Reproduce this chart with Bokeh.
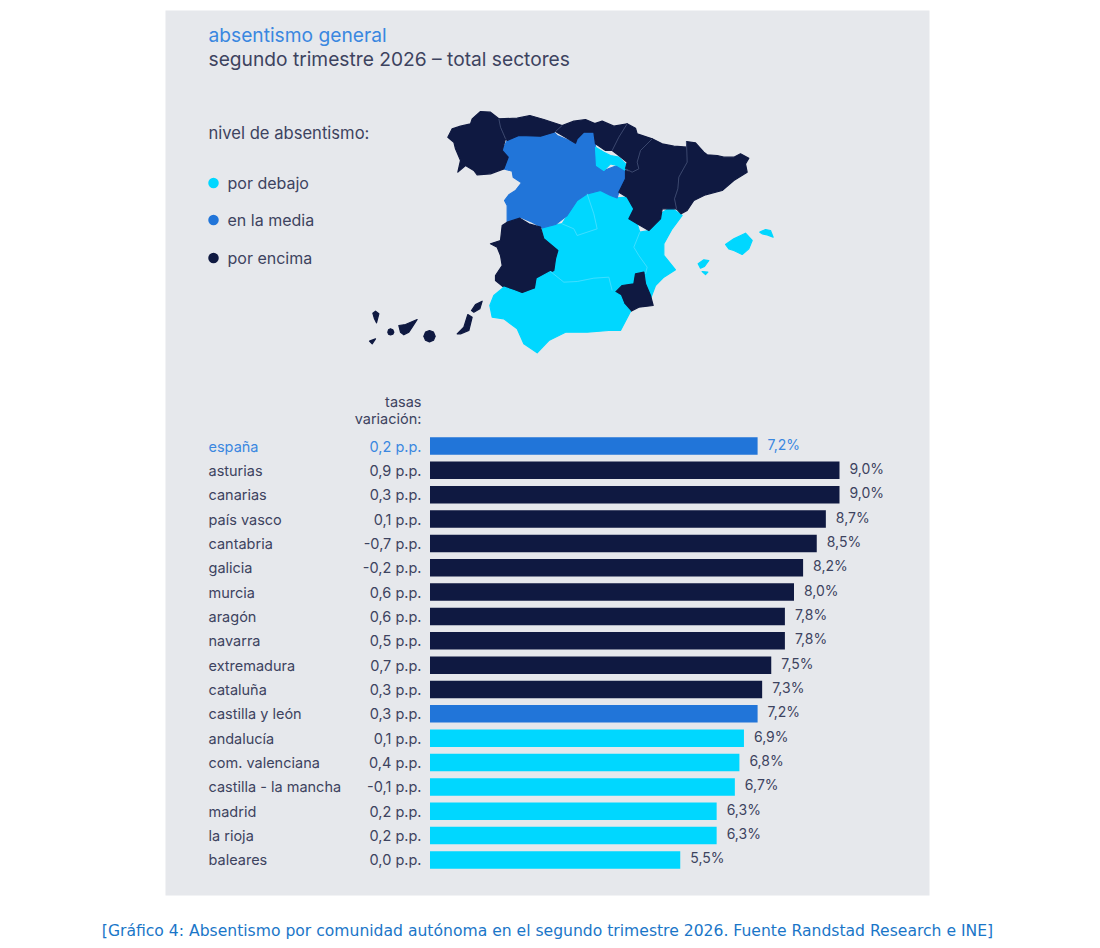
from bokeh.plotting import figure
from bokeh.models import Range1d, ColumnDataSource
from bokeh.core.properties import value
from bokeh.embed import file_html
from bokeh.resources import INLINE

NAVY = "#0f1941"; BLUE = "#2175d9"; CYAN = "#00d7ff"; BG = "#e6e8ec"; INK = "#3d435f"; BLUE_TXT = "#3a87e0"
LEVEL_COLORS = {"debajo": CYAN, "media": BLUE, "encima": NAVY}

regions = ["españa", "asturias", "canarias", "país vasco", "cantabria", "galicia", "murcia", "aragón", "navarra",
           "extremadura", "cataluña", "castilla y león", "andalucía", "com. valenciana", "castilla - la mancha",
           "madrid", "la rioja", "baleares"]
rates = [7.2, 9.0, 9.0, 8.7, 8.5, 8.2, 8.0, 7.8, 7.8, 7.5, 7.3, 7.2, 6.9, 6.8, 6.7, 6.3, 6.3, 5.5]
rate_labels = ["7,2%", "9,0%", "9,0%", "8,7%", "8,5%", "8,2%", "8,0%", "7,8%", "7,8%", "7,5%", "7,3%", "7,2%",
               "6,9%", "6,8%", "6,7%", "6,3%", "6,3%", "5,5%"]
variation = ["0,2 p.p.", "0,9 p.p.", "0,3 p.p.", "0,1 p.p.", "-0,7 p.p.", "-0,2 p.p.", "0,6 p.p.", "0,6 p.p.",
             "0,5 p.p.", "0,7 p.p.", "0,3 p.p.", "0,3 p.p.", "0,1 p.p.", "0,4 p.p.", "-0,1 p.p.", "0,2 p.p.",
             "0,2 p.p.", "0,0 p.p."]
levels = ["media"] + ["encima"] * 10 + ["media"] + ["debajo"] * 6

legend_labels = ["por debajo", "en la media", "por encima"]
legend_levels = ["debajo", "media", "encima"]

# Map outlines, in map units
map_shapes = {
 "castilla_mancha": ("debajo", [545,585,605,640,650,710,700,680,720,750,770,800,820,805,830,838,820,835,860,855,825,820,785,765,755,745,700,650,610,570,580,585,592,550],
                               [382,372,370,385,405,385,340,280,270,285,292,290,325,355,370,395,440,465,500,520,520,550,555,575,570,530,533,543,545,513,510,475,450,415]),
 "madrid": ("debajo", [680,700,710,650,640,605,620,650],[280,340,385,405,385,370,345,300]),
 "valencia": ("debajo", [900,930,965,935,910,910,945,910,885,870,855,850,860,835,820,838,865],
                        [340,320,345,385,430,465,508,530,555,595,550,515,500,465,440,395,390]),
 "castilla_leon": ("media", [425,440,475,540,575,590,645,650,670,700,705,708,730,770,797,795,775,770,750,720,680,650,620,585,545,515,480,440,440,432,445,465,483,458,455,430,443],
                            [150,120,105,107,90,105,128,115,95,95,135,195,210,195,212,240,275,292,285,270,280,300,345,372,382,365,350,375,315,300,283,270,247,230,212,205,170]),
 "la_rioja": ("debajo", [705,730,750,775,800,795,770,750,730,708],[140,155,165,170,195,210,195,190,210,195]),
 "galicia": ("encima", [262,275,300,330,335,360,390,415,420,435,425,443,430,390,350,340,315,292,300,285,280],
                        [110,85,77,70,55,33,35,55,80,115,150,170,205,220,223,210,195,215,180,145,125]),
 "asturias": ("encima", [415,470,508,550,605,580,540,475,440,430,420],[55,53,45,57,75,95,107,105,120,100,80]),
 "cantabria": ("encima", [605,640,675,705,700,670,650,645,615,585],[75,62,57,70,95,95,115,128,110,93]),
 "pais_vasco": ("encima", [700,725,760,800,775,755,735,705,700],[70,62,77,70,110,150,150,130,95]),
 "navarra": ("encima", [800,825,830,875,840,830,835,815,795,800,775,755,775],
                        [70,83,100,115,150,185,205,215,205,185,165,150,110]),
 "aragon": ("encima", [875,905,940,980,980,955,952,942,948,905,900,865,830,805,820,800,775,795,795,815,835,830,840],
                       [115,130,137,140,185,230,265,295,325,325,355,390,370,355,325,290,275,235,210,215,205,185,150]),
 "cataluna": ("encima", [978,1005,1030,1040,1070,1090,1120,1140,1165,1155,1160,1120,1085,1035,1000,980,962,948,942,952,955,980],
                         [123,127,155,163,165,170,170,160,173,190,215,240,270,283,300,330,340,325,295,265,230,185]),
 "murcia": ("encima", [765,785,820,825,850,855,870,878,835,810,790,780],[575,555,550,520,515,550,585,615,620,633,610,585]),
 "extremadura": ("encima", [425,440,478,505,540,550,592,585,580,530,525,485,460,430,405,405,425,420,410,390,420],
                           [375,365,353,370,380,415,450,475,510,535,565,580,570,560,540,525,495,465,440,430,420]),
 "andalucia": ("debajo", [430,460,485,525,530,570,610,650,700,745,755,780,790,810,780,745,680,615,565,530,490,470,430,395,388,400],
                         [560,570,580,565,535,513,545,543,533,530,570,585,610,633,690,690,695,695,720,757,730,685,655,650,615,585]),
 "mallorca": ("debajo", [1095,1120,1155,1175,1165,1145,1120,1105],[432,415,398,420,445,462,450,445]),
 "menorca": ("debajo", [1198,1215,1230,1238,1220,1205],[395,387,390,410,403,400]),
 "ibiza": ("debajo", [1013,1030,1045,1032,1020],[490,478,480,498,503]),
 "formentera": ("debajo", [1025,1042,1035],[513,515,522]),
 "la_palma": ("encima", [37,45,55,48,42],[638,632,640,667,655]),
 "el_hierro": ("encima", [27,45,35],[722,715,730]),
 "la_gomera": ("encima", [90,97,100,97,90,84,82,84],[685,688,695,701,703,701,695,688]),
 "tenerife": ("encima", [115,135,170,155,145,130,120],[675,672,657,680,695,703,695]),
 "gran_canaria": ("encima", [207,219,224,219,207,195,190,195],[690,695,707,719,724,719,707,695]),
 "fuerteventura": ("encima", [290,310,322,335,325,300],[700,680,642,650,690,700]),
 "lanzarote": ("encima", [333,345,365,358,340],[630,612,602,625,635]),
}
# inner borders between regions of the same colour
map_borders = {
 "gal_ast": ("encima", [415,420,435],[55,80,115]),
 "vas_nav": ("encima", [800,775,755],[70,110,150]),
 "nav_ara": ("encima", [875,840,830,835,815,795],[115,150,185,205,215,205]),
 "ara_cat": ("encima", [978,980,955,952,942,948],[123,185,230,265,295,325]),
 "ast_can": ("encima", [605,585],[75,93]),
 "madrid": ("debajo", [680,700,710,650,640,605],[280,340,385,405,385,370]),
 "clm_val": ("debajo", [838,820,835,860,855],[395,440,465,500,520]),
 "clm_and": ("debajo", [570,610,650,700,745,755],[513,545,543,533,530,570]),
}

W, H = 1084, 940
p = figure(width=W, height=H, output_backend="svg", toolbar_location=None,
           x_range=Range1d(0, W), y_range=Range1d(H, 0),
           min_border=0, outline_line_color=None, background_fill_color="white", border_fill_color="white")
p.axis.visible = False
p.grid.visible = False

# scales: bars (percent / row) and map units
PX_PER_PCT = 45.5; ZERO = 429.5; ROW = 24.35; ROW0 = 445.5
p.extra_x_ranges = {"pct": Range1d((0 - ZERO) / PX_PER_PCT, (W - ZERO) / PX_PER_PCT),
                    "map": Range1d((0 - 360) * 3, (W - 360) * 3)}
p.extra_y_ranges = {"row": Range1d((H - ROW0) / ROW, (0 - ROW0) / ROW),
                    "map": Range1d((H - 100) * 3, (0 - 100) * 3)}

p.quad(left=[165], right=[929], top=[10], bottom=[895], fill_color=BG, line_color=None)

# map
xs, ys, cols = [], [], []
for lvl, mx, my in map_shapes.values():
    xs.append(mx); ys.append(my); cols.append(LEVEL_COLORS[lvl])
p.patches(xs, ys, fill_color=cols, line_color=cols, line_width=1.2, line_join="round", x_range_name="map", y_range_name="map")
for lvl, mx, my in map_borders.values():
    c = "#47547a" if lvl == "encima" else "#4fe0ff"
    p.line(mx, my, line_color=c, line_width=0.8, x_range_name="map", y_range_name="map")

# bars
rows = list(range(len(regions)))
bar_cols = [LEVEL_COLORS[l] for l in levels]
txt_cols = [BLUE_TXT if i == 0 else INK for i in rows]
src = ColumnDataSource(dict(row=rows, rate=rates, zero=[0] * len(rows), color=bar_cols, txt=txt_cols,
                            region=regions, var=variation, lab=rate_labels))
p.hbar(y="row", left="zero", right="rate", height=0.72, fill_color="color", line_color=None, source=src,
       x_range_name="pct", y_range_name="row")
FONT = value("Inter")
p.text(x="rate", y="row", text="lab", source=src, x_range_name="pct", y_range_name="row", x_offset=10, y_offset=-2,
       text_font=FONT, text_font_size=value("14px"), text_baseline="middle", text_color="txt")
label_y = [ROW0 + ROW * r for r in rows]
p.text(x=[208] * len(rows), y=label_y, text=regions, text_font=FONT, text_font_size=value("14.5px"),
       text_baseline="middle", text_color=txt_cols)
p.text(x=[421] * len(rows), y=label_y, text=variation, text_font=FONT, text_font_size=value("14.5px"),
       text_baseline="middle", text_align="right", text_color=txt_cols)
p.text(x=[421, 421], y=[400.5, 417.5], text=["tasas", "variación:"], text_font=FONT, text_font_size=value("14.5px"),
       text_baseline="middle", text_align="right", text_color=INK)

# titles
p.text(x=[208], y=[34.5], text=["absentismo general"], text_font=FONT, text_font_size=value("19.2px"), text_baseline="middle", text_color=BLUE_TXT)
p.text(x=[208], y=[58], text=["segundo trimestre 2026 – total sectores"], text_font=FONT, text_font_size=value("19.2px"),
       text_baseline="middle", text_color=INK)
p.text(x=[208], y=[132.5], text=["nivel de absentismo:"], text_font=FONT, text_font_size=value("16.6px"), text_baseline="middle", text_color=INK)

# legend
leg_y = [182.5, 219.5, 257.5]
p.scatter(x=[213] * 3, y=leg_y, size=10.5, color=[LEVEL_COLORS[l] for l in legend_levels], line_color=None)
p.text(x=[227] * 3, y=leg_y, text=legend_labels, text_font=FONT, text_font_size=value("16px"), text_baseline="middle", text_color=INK)

# caption
p.text(x=[547], y=[930], text=["[Gráfico 4: Absentismo por comunidad autónoma en el segundo trimestre 2026. Fuente Randstad Research e INE]"],
       text_font=value("DejaVu Sans"), text_font_size=value("15.6px"), text_align="center", text_baseline="middle", text_color="#1a76c8")

open("out.html", "w").write(file_html(p, INLINE))
